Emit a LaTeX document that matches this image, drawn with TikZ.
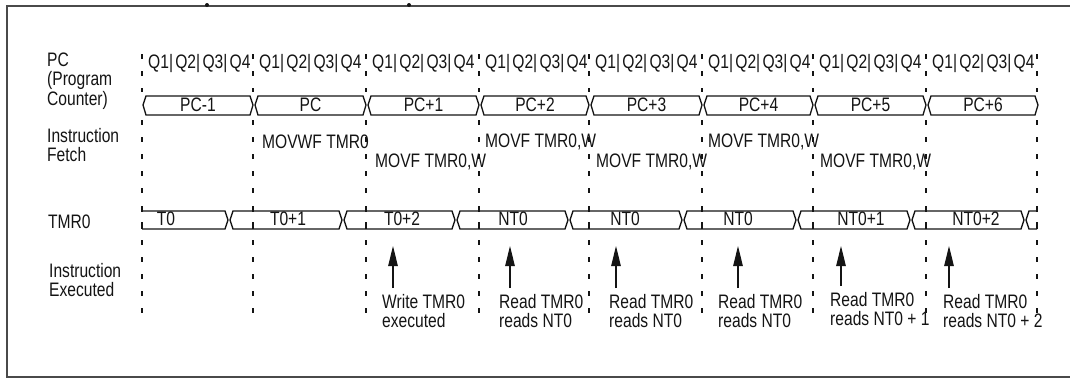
\documentclass[tikz,border=0pt]{standalone}
\usepackage{fontspec}
\setmainfont{Liberation Sans}[FakeStretch=0.8]
\usetikzlibrary{arrows.meta, positioning, calc}
\definecolor{inkblack}{HTML}{141414}
\definecolor{framegray}{HTML}{4A4A4A}
\newcommand{\qphases}{Q1|\hspace{2.3pt}Q2|\hspace{2.3pt}Q3|\hspace{2.3pt}Q4}

\begin{document}
\begin{tikzpicture}[
    x=1pt, y=-1pt,
    >={Triangle[length=20pt, width=9.5pt]},
    every node/.style={text=inkblack, font=\fontsize{19.5}{19.5}\selectfont, inner sep=0pt},
    rowlabel/.style={anchor=west, align=left},
    timelabel/.style={anchor=west},
    fetchlabel/.style={anchor=west},
    execlabel/.style={anchor=north west, align=left},
    clockline/.style={inkblack, line width=1.2pt, dash pattern=on 5pt off 12pt},
    busline/.style={inkblack, line width=1.3pt},
    execarrow/.style={->, inkblack, line width=1.1pt},
  ]

  % Background
  \useasboundingbox (0,0) rectangle (1070,378);
  \fill[white] (0,0) rectangle (1070,378);

  % === Outer frame (no right side) ===
  \draw[framegray, line width=1.6pt] (1070,6) -- (7,6) -- (7,377) -- (1070,377);
  \fill[inkblack] (207,5) circle (2pt);
  \fill[inkblack] (409,5) circle (2pt);

  % === Row labels ===
  \node[rowlabel] (pclabel) at (47,81) {PC\\(Program\\Counter)};
  \node[rowlabel] (fetchrow) at (47,145) {Instruction\\Fetch};
  \node[rowlabel] (tmrlabel) at (48,222) {TMR0};
  \node[rowlabel] (execrow) at (49,280) {Instruction\\Executed};

  % === Clock lines and Q phases ===
  \foreach \x in {142,253,366,479,589,702,813,926,1037} {
    \draw[clockline] (\x,54) -- (\x,92);
    \draw[clockline] (\x,120) -- (\x,200);
    \draw[clockline] (\x,240) -- (\x,313);
    \draw[busline] (\x,206) -- (\x,212) (\x,222) -- (\x,229);
  }
  \foreach \x [count=\i] in {142,253,366,479,589,702,813,926} {
    \node[timelabel] (qrow\i) at (\x+6,63) {\qphases};
  }

  % === PC bus ===
  \foreach \a/\b/\name in {143/253/PC-1, 255/366/PC, 368/479/PC+1, 481/589/PC+2,
      591/702/PC+3, 704/813/PC+4, 815/926/PC+5, 928/1038/PC+6} {
    \draw[busline] (\a,105) -- (\a+3,96) -- (\b-3,96) -- (\b,105) -- (\b-3,115)
      -- (\a+3,115) -- cycle;
    \node (pc\a) at ({(\a+\b)/2},105) {\name};
  }

  % === Instruction fetch ===
  \node[fetchlabel] (fetch1) at (262,142) {MOVWF TMR0};
  \node[fetchlabel] (fetch2) at (375,162) {MOVF TMR0,W};
  \node[fetchlabel] (fetch3) at (485,142) {MOVF TMR0,W};
  \node[fetchlabel] (fetch4) at (596,162) {MOVF TMR0,W};
  \node[fetchlabel] (fetch5) at (708,142) {MOVF TMR0,W};
  \node[fetchlabel] (fetch6) at (820,162) {MOVF TMR0,W};

  % === TMR0 bus ===
  \draw[busline] (142,211) -- (225,211) -- (228,220) -- (225,229) -- (142,229);
  \node (tmr142) at (166,219) {T0};
  \foreach \a/\b/\c/\name in {230/342/288/T0+1, 344/455/402/T0+2,
      457/568/513/NT0, 570/682/625/NT0, 684/796/738/NT0, 798/910/861/NT0+1,
      912/1024/976/NT0+2} {
    \draw[busline] (\a,220) -- (\a+3,211) -- (\b-3,211) -- (\b,220) -- (\b-3,229)
      -- (\a+3,229) -- cycle;
    \node (tmr\a) at (\c,219) {\name};
  }
  \draw[busline] (1037,211) -- (1029,211) -- (1026,220) -- (1029,229) -- (1037,229);

  % === Instruction executed ===
  \node[execlabel] (exec1) at (382,294) {Write TMR0\\executed};
  \node[execlabel] (exec2) at (499,294) {Read TMR0\\reads NT0};
  \node[execlabel] (exec3) at (609,294) {Read TMR0\\reads NT0};
  \node[execlabel] (exec4) at (718,294) {Read TMR0\\reads NT0};
  \node[execlabel] (exec5) at (830,292) {Read TMR0\\reads NT0 + 1};
  \node[execlabel] (exec6) at (943,294) {Read TMR0\\reads NT0 + 2};

  \coordinate (tip1) at (393,246);
  \coordinate (tip2) at (510,246);
  \coordinate (tip3) at (616,246);
  \coordinate (tip4) at (738,246);
  \coordinate (tip5) at (841,246);
  \coordinate (tip6) at (949,246);
  \foreach \i in {1,...,6} {
    \draw[execarrow] ([yshift=6pt]exec\i.north -| tip\i) -- (tip\i);
  }

\end{tikzpicture}
\end{document}
